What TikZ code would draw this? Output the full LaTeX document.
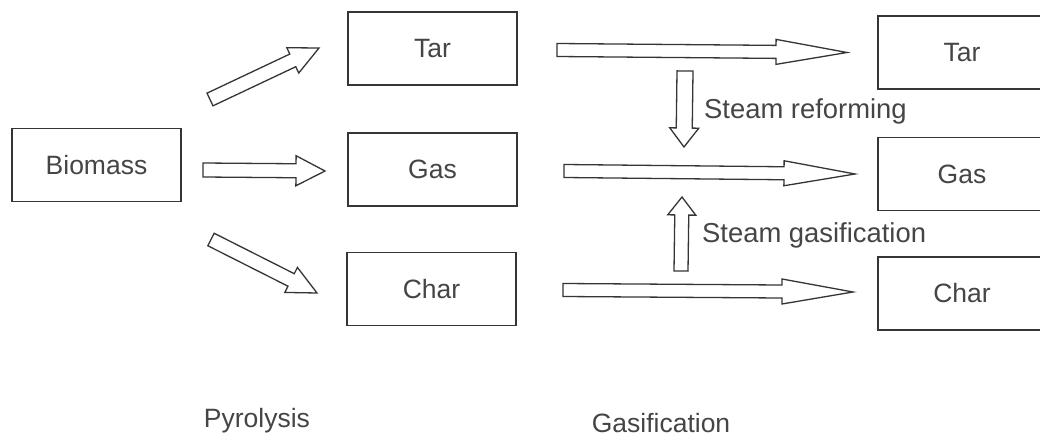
\documentclass[tikz,border=0pt]{standalone}
\usepackage{fontspec}
\setmainfont{Liberation Sans}
\usetikzlibrary{calc}
\definecolor{ink}{HTML}{353535}
\definecolor{txt}{HTML}{454545}
\tikzset{
  labelfont/.style={font=\fontsize{26.5}{31}\selectfont, text=txt},
  box/.style={draw=ink, line width=1.7pt, fill=white, minimum width=169pt,
    minimum height=73pt, inner sep=0pt, labelfont},
  caption/.style={inner sep=0pt, labelfont},
  sidecaption/.style={caption, font=\fontsize{27.4}{32}\selectfont, anchor=west},
  % hollow block arrow from the start point to the tip
  shaft/.store in=\ShaftHalf, head/.store in=\HeadHalf, headlen/.store in=\HeadLen,
  shaft=7, head=15, headlen=29,
  blockarrow/.style={draw=ink, line width=1.3pt, fill=white, line join=miter,
    miter limit=20,
    to path={let \p1=(\tikztostart), \p2=(\tikztotarget),
      \n1={veclen(\x2-\x1,\y2-\y1)}, \n2={(\x2-\x1)/\n1}, \n3={(\y2-\y1)/\n1},
      \n4={\n1-\HeadLen} in
      ({\x1-\n3*\ShaftHalf},{\y1+\n2*\ShaftHalf})
      -- ({\x1+\n2*\n4-\n3*\ShaftHalf},{\y1+\n3*\n4+\n2*\ShaftHalf})
      -- ({\x1+\n2*\n4-\n3*\HeadHalf},{\y1+\n3*\n4+\n2*\HeadHalf})
      -- (\p2)
      -- ({\x1+\n2*\n4+\n3*\HeadHalf},{\y1+\n3*\n4-\n2*\HeadHalf})
      -- ({\x1+\n2*\n4+\n3*\ShaftHalf},{\y1+\n3*\n4-\n2*\ShaftHalf})
      -- ({\x1+\n3*\ShaftHalf},{\y1-\n2*\ShaftHalf}) -- cycle}},
  longarrow/.style={blockarrow, shaft=6.5, head=12.5, headlen=71},
  vertarrow/.style={blockarrow, shaft=7.5, head=14.5, headlen=19}
}
\begin{document}
\begin{tikzpicture}[x=1pt, y=-1pt]
  \useasboundingbox (0,0) rectangle (1040,438);
  \clip (0,0) rectangle (1040,438);
  \fill[white] (0,0) rectangle (1040,438);

  % feed
  \node[box] (biomass) at (96.5,165) {Biomass};

  % pyrolysis products
  \node[box] (tarA)  at (432.5,48.5) {Tar};
  \node[box] (gasA)  at (432.5,169.5) {Gas};
  \node[box] (charA) at (431.5,289) {Char};

  % gasification products (run off the right edge)
  \node[box, minimum width=168pt] (tarB)  at (962,52.5) {Tar};
  \node[box, minimum width=168pt] (gasB)  at (962,174) {Gas};
  \node[box, minimum width=168pt] (charB) at (962,293.5) {Char};

  % arrow end points
  \coordinate (p1s) at (210,99.5);  \coordinate (p1e) at (319,48);
  \coordinate (p2s) at (203,170);   \coordinate (p2e) at (325,171);
  \coordinate (p3s) at (211,239.5); \coordinate (p3e) at (317,293);
  \coordinate (g1s) at (557,50);    \coordinate (g1e) at (847,52.5);
  \coordinate (g2s) at (564,171);   \coordinate (g2e) at (855,174);
  \coordinate (g3s) at (563,290);   \coordinate (g3e) at (853,292);
  \coordinate (rfs) at (685,71);    \coordinate (rfe) at (684,147);
  \coordinate (gfs) at (681,271);   \coordinate (gfe) at (682,197);

  % pyrolysis arrows
  \draw[blockarrow, head=14] (p1s) to (p1e);
  \draw[blockarrow] (p2s) to (p2e);
  \draw[blockarrow, head=14] (p3s) to (p3e);

  % gasification arrows
  \draw[longarrow] (g1s) to (g1e);
  \draw[longarrow] (g2s) to (g2e);
  \draw[longarrow] (g3s) to (g3e);

  % secondary reactions
  \draw[vertarrow, shaft=8] (rfs) to (rfe);
  \draw[vertarrow, shaft=7, head=14, headlen=18] (gfs) to (gfe);
  \node[sidecaption] (reform) at (704,111) {Steam reforming};
  \node[sidecaption] (gasify) at (702,235) {Steam gasification};

  % stage captions
  \node[caption] (pyro) at (257,421) {Pyrolysis};
  \node[caption] (gasi) at (661,423) {Gasification};
\end{tikzpicture}
\end{document}
